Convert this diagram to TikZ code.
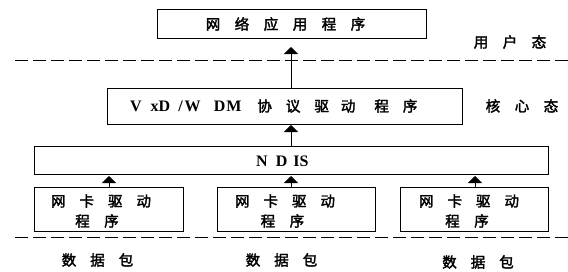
\documentclass[tikz,border=0pt]{standalone}
\usepackage{fontspec}
\setmainfont{Liberation Serif}
\newfontfamily\cjk{Noto Sans CJK SC}[FakeBold=2.2]
\usetikzlibrary{arrows.meta}
\newcommand{\gp}[1]{\hspace{#1pt}}
\begin{document}
\begin{tikzpicture}[x=1pt,y=-1pt,
  box/.style={draw=black,line width=0.8pt,inner sep=0pt},
  lbl/.style={font=\cjk\fontsize{14.5}{20}\selectfont,inner sep=0pt},
  lat/.style={font=\rmfamily\bfseries\fontsize{16}{20}\selectfont,inner sep=0pt},
  up/.style={line width=0.8pt,-{Triangle[width=14pt,length=7pt]}},
  sep/.style={line width=0.8pt,dash pattern=on 13pt off 5pt}]
\useasboundingbox (0,0) rectangle (568,271);
% boxes
\node[box,minimum width=269pt,minimum height=29pt] (app) at (291.5,23.5) {};
\node[lbl] (apptxt) at (285.5,24) {网\gp{14.5}络\gp{14.5}应\gp{14.5}用\gp{14.5}程\gp{14.5}序};
\node[box,minimum width=355pt,minimum height=36pt] (vxd) at (284.5,106) {};
\node[lat,anchor=west] (vxdtxt) at (130,106) {V\gp{9}x\gp{0}D\gp{8}/\gp{2}W\gp{13}D\gp{1}M\gp{16}{\cjk\mdseries\fontsize{14.5}{20}\selectfont 协\gp{14}议\gp{14}驱\gp{12}动\gp{19}程\gp{14}序}};
\node[box,minimum width=514pt,minimum height=28pt] (ndis) at (291,160) {};
\node[lat,anchor=west] (ndistxt) at (256,161) {N\gp{8}D\gp{6}IS};
\node[box,minimum width=149pt,minimum height=44pt] (nic1) at (108.5,209) {};
\node[box,minimum width=158pt,minimum height=44pt] (nic2) at (296,209) {};
\node[box,minimum width=148pt,minimum height=44pt] (nic3) at (474,209) {};
\node[lbl,align=center] (t1) at (101,211) {网\gp{14}卡\gp{14}驱\gp{14}动\\[0pt]\hspace*{-8pt}程\gp{14.5}序};
\node[lbl,align=center] (t2) at (285,211) {网\gp{14}卡\gp{14}驱\gp{14}动\\[0pt]\hspace*{-5pt}程\gp{14.5}序};
\node[lbl,align=center] (t3) at (469,211) {网\gp{14}卡\gp{14}驱\gp{14}动\\[0pt]\hspace*{-4pt}程\gp{14.5}序};
% side labels
\node[lbl] (user) at (510,42) {用\gp{14.5}户\gp{14.5}态};
\node[lbl] (kern) at (522,106) {核\gp{14.5}心\gp{14.5}态};
\node[lbl] (p1) at (97.5,260) {数\gp{14}据\gp{14}包};
\node[lbl] (p2) at (281.5,260) {数\gp{14}据\gp{14}包};
\node[lbl] (p3) at (478,262) {数\gp{14}据\gp{14}包};
% separators
\coordinate (s1a) at (15,60); \coordinate (s1b) at (568,60);
\coordinate (s2a) at (15,237); \coordinate (s2b) at (568,237);
\draw[sep] (s1a) -- (s1b);
\draw[sep] (s2a) -- (s2b);
% arrows
\coordinate (a0) at (291,47);
\draw[up] (vxd.north -| a0) -- (a0);
\coordinate (a1) at (291,125);
\draw[up] (ndis.north -| a1) -- (a1);
\coordinate (b1) at (109,176);
\coordinate (b2) at (291,176);
\coordinate (b3) at (475,176);
\draw[up] (nic1.north -| b1) -- (b1);
\draw[up] (nic2.north -| b2) -- (b2);
\draw[up] (nic3.north -| b3) -- (b3);
\end{tikzpicture}
\end{document}
